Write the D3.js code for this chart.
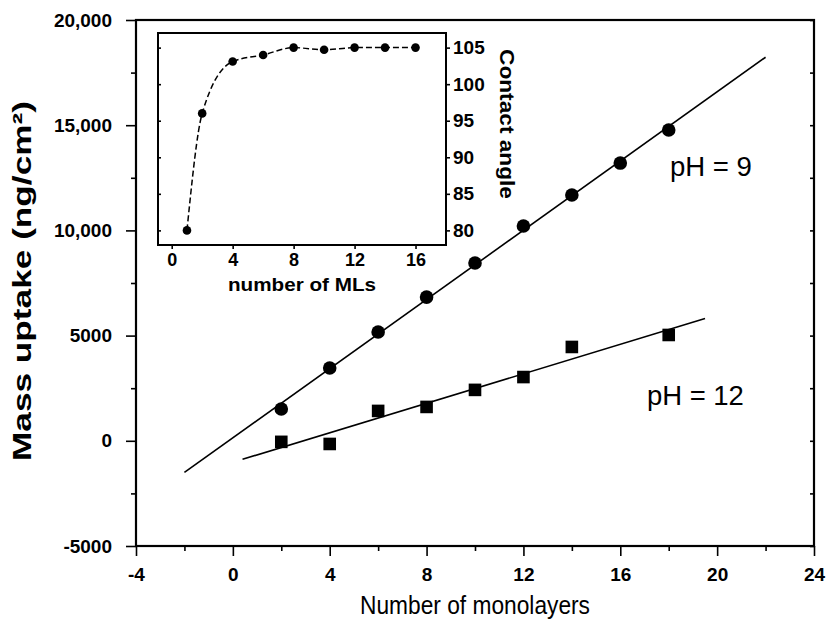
<!DOCTYPE html>
<html>
<head>
<meta charset="utf-8">
<script src="https://cdn.jsdelivr.net/npm/d3@7"></script>
<style>
    html, body { margin: 0; padding: 0; background: #fff; }
    svg { display: block; font-family: 'Liberation Sans', Arial, sans-serif; }
    .axis path { display: none; }
    .axis line { stroke: #000; stroke-width: 1.6; }
    .axis text { fill: #000; font-weight: bold; }
</style>
</head>
<body>
<svg id="chart" width="829" height="623"></svg>
<script>
// Main chart: mass uptake vs. number of monolayers
const layers9 = [2, 4, 6, 8, 10, 12, 14, 16, 18];
const mass9 = [1510, 3460, 5170, 6830, 8450, 10210, 11680, 13200, 14770];
const layers12 = [2, 4, 6, 8, 10, 12, 14, 18];
const mass12 = [-50, -150, 1420, 1610, 2420, 3030, 4460, 5030];
const fitRange9 = [-2, 22];
const fitRange12 = [0.4, 19.5];

const xTicks = [-4, 0, 4, 8, 12, 16, 20, 24];
const xMinorTicks = [-2, 2, 6, 10, 14, 18, 22];
const yTicks = [-5000, 0, 5000, 10000, 15000, 20000];
const yTickLabels = ['-5000', '0', '5000', '10,000', '15,000', '20,000'];
const yMinorTicks = [-2500, 2500, 7500, 12500, 17500];

// Inset: contact angle vs. number of MLs
const insetLayers = [1, 2, 4, 6, 8, 10, 12, 14, 16];
const insetAngle = [80, 96, 103.1, 104, 105, 104.7, 105, 105, 105];
const insetXTicks = [0, 4, 8, 12, 16];
const insetYTicks = [80, 85, 90, 95, 100, 105];

const d3chart = (function () {

    let svg = d3.select('#chart'),
        x = d3.scaleLinear().domain([-4, 24]).range([136, 814]),
        y = d3.scaleLinear().domain([-5000, 20000]).range([546, 20]),
        ix = d3.scaleLinear().domain([-0.9, 18]).range([158, 446]),
        iy = d3.scaleLinear().domain([78, 107]).range([245, 33])
    ;

    drawMain();
    drawInset();

    // Least squares line through the points, drawn over the given x range
    function fit(xs, ys, range) {
        let mx = d3.mean(xs), my = d3.mean(ys),
            sxy = d3.sum(xs, (v, i) => (v - mx) * (ys[i] - my)),
            sxx = d3.sum(xs, (v) => (v - mx) * (v - mx)),
            slope = sxy / sxx,
            icpt = my - slope * mx;
        return range.map((v) => [v, icpt + slope * v]);
    }

    function drawMain() {
        // Axes
        svg.append('g').attr('class', 'axis')
            .attr('transform', 'translate(' + x.range()[0] + ',0)')
            .style('font-size', '19px')
            .call(d3.axisLeft(y).tickValues(yTicks).tickFormat((d, i) => yTickLabels[i])
                .tickSize(10).tickSizeOuter(0).tickPadding(14));
        svg.append('g').attr('class', 'axis')
            .attr('transform', 'translate(' + x.range()[0] + ',0)')
            .call(d3.axisLeft(y).tickValues(yMinorTicks).tickFormat('').tickSize(5).tickSizeOuter(0));
        svg.append('g').attr('class', 'axis')
            .attr('transform', 'translate(' + x.range()[1] + ',0)')
            .call(d3.axisLeft(y).tickValues(yTicks.concat(yMinorTicks)).tickFormat('').tickSize(4).tickSizeOuter(0));

        svg.append('g').attr('class', 'axis')
            .attr('transform', 'translate(0,' + y.range()[0] + ')')
            .style('font-size', '19px')
            .call(d3.axisBottom(x).tickValues(xTicks).tickFormat((d) => String(d))
                .tickSize(10).tickSizeOuter(0).tickPadding(12));
        svg.append('g').attr('class', 'axis')
            .attr('transform', 'translate(0,' + y.range()[0] + ')')
            .call(d3.axisBottom(x).tickValues(xMinorTicks).tickFormat('').tickSize(5).tickSizeOuter(0));

        // Frame
        svg.append('rect')
            .attr('x', x.range()[0]).attr('y', y.range()[1])
            .attr('width', x.range()[1] - x.range()[0])
            .attr('height', y.range()[0] - y.range()[1])
            .attr('fill', 'none').attr('stroke', '#000').attr('stroke-width', 2.2);

        // Fit lines
        let line = d3.line().x((d) => x(d[0])).y((d) => y(d[1]));
        svg.append('path').datum(fit(layers9, mass9, fitRange9))
            .attr('d', line).attr('stroke', '#000').attr('stroke-width', 1.6).attr('fill', 'none');
        svg.append('path').datum(fit(layers12, mass12, fitRange12))
            .attr('d', line).attr('stroke', '#000').attr('stroke-width', 1.6).attr('fill', 'none');

        // Points
        svg.append('g').selectAll('circle').data(layers9).enter().append('circle')
            .attr('cx', (d) => x(d))
            .attr('cy', (d, i) => y(mass9[i]))
            .attr('r', 6.8)
            .attr('fill', '#000');
        svg.append('g').selectAll('rect').data(layers12).enter().append('rect')
            .attr('x', (d) => x(d) - 6.3)
            .attr('y', (d, i) => y(mass12[i]) - 6.3)
            .attr('width', 12.6).attr('height', 12.6)
            .attr('fill', '#000');

        // Labels
        svg.append('text')
            .attr('x', x(18.05)).attr('y', y(12600))
            .attr('font-size', 28).attr('textLength', 82).attr('lengthAdjust', 'spacingAndGlyphs')
            .text('pH = 9');
        svg.append('text')
            .attr('x', x(17.1)).attr('y', y(1700))
            .attr('font-size', 28).attr('textLength', 97).attr('lengthAdjust', 'spacingAndGlyphs')
            .text('pH = 12');

        svg.append('text')
            .attr('x', d3.mean(x.range())).attr('y', 614)
            .attr('text-anchor', 'middle').attr('font-size', 25)
            .attr('textLength', 230).attr('lengthAdjust', 'spacingAndGlyphs')
            .text('Number of monolayers');
        svg.append('text')
            .attr('transform', 'translate(31,' + (d3.mean(y.range()) - 2) + ') rotate(-90)')
            .attr('text-anchor', 'middle').attr('font-size', 25).attr('font-weight', 'bold')
            .attr('textLength', 360).attr('lengthAdjust', 'spacingAndGlyphs')
            .text('Mass uptake (ng/cm²)');
    }

    function drawInset() {
        svg.append('rect')
            .attr('x', ix.range()[0]).attr('y', iy.range()[1])
            .attr('width', ix.range()[1] - ix.range()[0])
            .attr('height', iy.range()[0] - iy.range()[1])
            .attr('fill', '#fff').attr('stroke', '#000').attr('stroke-width', 2);

        svg.append('g').attr('class', 'axis')
            .attr('transform', 'translate(0,' + iy.range()[0] + ')')
            .style('font-size', '18px')
            .call(d3.axisBottom(ix).tickValues(insetXTicks).tickSize(4).tickSizeOuter(0).tickPadding(4));
        svg.append('g').attr('class', 'axis')
            .attr('transform', 'translate(' + ix.range()[1] + ',0)')
            .style('font-size', '19px')
            .call(d3.axisRight(iy).tickValues(insetYTicks).tickSize(4).tickSizeOuter(0).tickPadding(3));
        svg.append('g').attr('class', 'axis')
            .attr('transform', 'translate(' + ix.range()[0] + ',0)')
            .call(d3.axisRight(iy).tickValues(insetYTicks).tickFormat('').tickSize(3).tickSizeOuter(0));

        // Dashed guide curve and points
        let line = d3.line().curve(d3.curveMonotoneX)
            .x((d) => ix(d))
            .y((d, i) => iy(insetAngle[i]));
        svg.append('path').datum(insetLayers)
            .attr('d', line).attr('fill', 'none')
            .attr('stroke', '#000').attr('stroke-width', 1.5).attr('stroke-dasharray', '6,3');
        svg.append('g').selectAll('circle').data(insetLayers).enter().append('circle')
            .attr('cx', (d) => ix(d))
            .attr('cy', (d, i) => iy(insetAngle[i]))
            .attr('r', 4.3)
            .attr('fill', '#000');

        svg.append('text')
            .attr('x', d3.mean(ix.range())).attr('y', 291)
            .attr('text-anchor', 'middle').attr('font-size', 18).attr('font-weight', 'bold')
            .attr('textLength', 148).attr('lengthAdjust', 'spacingAndGlyphs')
            .text('number of MLs');
        svg.append('text')
            .attr('transform', 'translate(500,' + (d3.mean(iy.range()) - 15) + ') rotate(90)')
            .attr('text-anchor', 'middle').attr('font-size', 20).attr('font-weight', 'bold')
            .attr('textLength', 150).attr('lengthAdjust', 'spacingAndGlyphs')
            .text('Contact angle');
    }

}());
</script>
</body>
</html>
